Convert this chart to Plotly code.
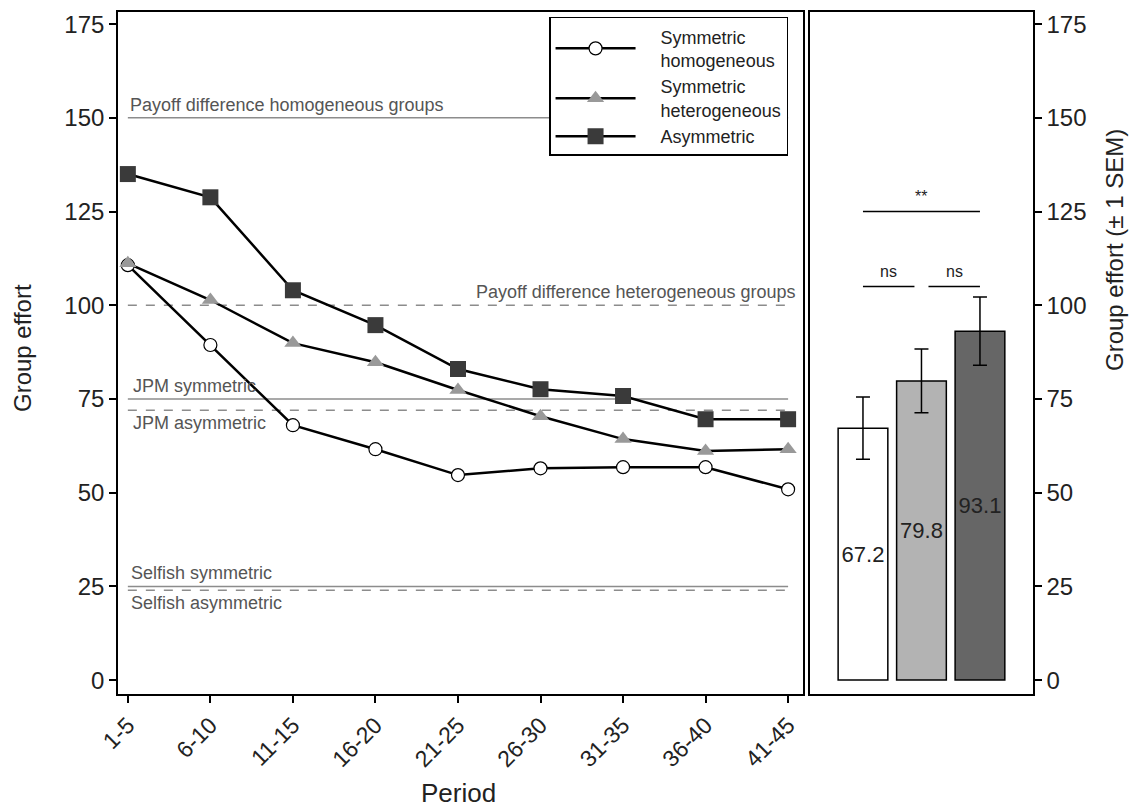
import plotly.graph_objects as go

# ---------------- data ----------------
periods = ["1-5", "6-10", "11-15", "16-20", "21-25", "26-30", "31-35", "36-40", "41-45"]
sym_hom = [110.7, 89.4, 68.0, 61.6, 54.7, 56.5, 56.8, 56.8, 50.9]
sym_het = [111.2, 101.4, 89.9, 84.8, 77.4, 70.4, 64.3, 61.1, 61.6]
asym = [135.0, 128.8, 104.0, 94.7, 83.0, 77.6, 75.8, 69.6, 69.6]

series_names = ["Symmetric<br>homogeneous", "Symmetric<br>heterogeneous", "Asymmetric"]

ref_labels = ["Payoff difference homogeneous groups", "Payoff difference heterogeneous groups",
              "JPM symmetric", "JPM asymmetric", "Selfish symmetric", "Selfish asymmetric"]
ref_values = [150, 100, 75, 72, 25, 24]

bar_groups = ["Symmetric homogeneous", "Symmetric heterogeneous", "Asymmetric"]
bar_values = [67.2, 79.8, 93.1]
bar_sem = [8.3, 8.5, 9.1]

sig_labels = ["ns", "ns", "**"]
sig_from = [0, 1, 0]
sig_to = [1, 2, 2]
sig_heights = [105, 105, 125]

yticks = [0, 25, 50, 75, 100, 125, 150, 175]

x_title = "Period"
y_title = "Group effort"
y2_title = "Group effort (± 1 SEM)"

# ---------------- style ----------------
FONT = "Liberation Sans, Arial, sans-serif"
TXT = "#222222"
REF_C = "#8c8c8c"
REF_TXT = "#555555"
ref_dash = ["solid", "dash", "solid", "dash", "solid", "dash"]
bar_colors = ["#ffffff", "#b3b3b3", "#666666"]
PAD = "\u00a0\u00a0\u00a0\u00a0"

fig = go.Figure()

# reference lines
for lab, val, dsh in zip(ref_labels, ref_values, ref_dash):
    fig.add_trace(go.Scatter(
        x=[periods[0], periods[-1]], y=[val, val], mode="lines",
        line=dict(color=REF_C, width=1.5, dash=dsh), showlegend=False,
        hoverinfo="skip", xaxis="x", yaxis="y"))

def legname(s):
    return "<br>".join(PAD + part for part in s.split("<br>"))

# series lines
fig.add_trace(go.Scatter(
    x=periods, y=sym_hom, name=legname(series_names[0]), mode="lines+markers",
    line=dict(color="black", width=2.5),
    marker=dict(symbol="circle", size=13, color="white", line=dict(color="black", width=1.2)),
    xaxis="x", yaxis="y"))
fig.add_trace(go.Scatter(
    x=periods, y=sym_het, name=legname(series_names[1]), mode="lines+markers",
    line=dict(color="black", width=2.5),
    marker=dict(symbol="triangle-up", size=15, color="#999999", line=dict(width=0)),
    xaxis="x", yaxis="y"))
fig.add_trace(go.Scatter(
    x=periods, y=asym, name=legname(series_names[2]), mode="lines+markers",
    line=dict(color="black", width=2.5),
    marker=dict(symbol="square", size=16, color="#3a3a3a", line=dict(width=0)),
    xaxis="x", yaxis="y"))

# bars
fig.add_trace(go.Bar(
    x=[0, 1, 2], y=bar_values, width=0.85,
    marker=dict(color=bar_colors, line=dict(color="black", width=1.5)),
    error_y=dict(type="data", array=bar_sem, color="black", thickness=1.5, width=7),
    text=[f"{v:.1f}" for v in bar_values], textposition="inside",
    insidetextanchor="middle", textangle=0,
    textfont=dict(family=FONT, size=22, color=TXT),
    showlegend=False, xaxis="x2", yaxis="y2", hoverinfo="skip"))

# significance brackets
for lab, a, b, h in zip(sig_labels, sig_from, sig_to, sig_heights):
    gap = 0.12 if lab == "ns" else 0.0
    xa = a + (gap if a == 1 else 0)
    xb = b - (gap if b == 1 else 0)
    fig.add_trace(go.Scatter(
        x=[xa, xb], y=[h, h], mode="lines", line=dict(color="black", width=1.5),
        showlegend=False, hoverinfo="skip", xaxis="x2", yaxis="y2"))
    fig.add_annotation(x=(xa + xb) / 2, y=h, xref="x2", yref="y2", text=lab,
                       showarrow=False, yanchor="bottom", yshift=5,
                       font=dict(family=FONT, size=16, color=TXT))

# reference labels
ref_pos = [  # (x, anchor, above?)
    (0.0, "left", True), (8.12, "right", True), (0.04, "left", True),
    (0.04, "left", False), (0.01, "left", True), (0.01, "left", False)]
for lab, val, (xp, anc, above) in zip(ref_labels, ref_values, ref_pos):
    fig.add_annotation(x=xp, y=val, xref="x", yref="y", text=lab, showarrow=False,
                       xanchor=anc, yanchor="bottom" if above else "top",
                       yshift=1 if above else -1,
                       font=dict(family=FONT, size=18, color=REF_TXT))

# axis titles
fig.add_annotation(x=458 / 1133, y=0, xref="paper", yref="paper", text=x_title,
                   xanchor="center", yanchor="bottom", yshift=-2,
                   showarrow=False, font=dict(family=FONT, size=26, color=TXT))
fig.add_annotation(x=23 / 1133, y=1 - 348 / 808, xref="paper", yref="paper", text=y_title,
                   xanchor="center", yanchor="middle",
                   textangle=-90, showarrow=False, font=dict(family=FONT, size=24, color=TXT))
fig.add_annotation(x=1114 / 1133, y=1 - 250 / 808, xref="paper", yref="paper", text=y2_title,
                   xanchor="center", yanchor="middle",
                   textangle=-90, showarrow=False, font=dict(family=FONT, size=24, color=TXT))

ax_common = dict(showline=True, linecolor="black", linewidth=1.5, mirror=True,
                 showgrid=False, zeroline=False, automargin=False)
yrange = [-3.7, 178.2]

fig.update_layout(
    width=1133, height=808, margin=dict(l=0, r=0, t=0, b=0, autoexpand=False),
    paper_bgcolor="white", plot_bgcolor="white",
    font=dict(family=FONT, color=TXT),
    xaxis=dict(domain=[0.1041, 0.7087], type="category",
               categoryorder="array", categoryarray=periods, range=[-0.12, 8.18],
               ticks="outside", ticklen=7, tickwidth=1.5, tickcolor="black",
               tickangle=-45, tickfont=dict(size=23, color=TXT),
               anchor="y", **ax_common),
    yaxis=dict(domain=[0.1411, 0.985], range=yrange, tickvals=yticks,
               ticks="outside", ticklen=7, tickwidth=1.5, tickcolor="black",
               tickfont=dict(size=24, color=TXT),
               anchor="x", **ax_common),
    xaxis2=dict(domain=[0.7149, 0.9117], range=[-0.906, 2.906], showticklabels=False,
                ticks="", anchor="y2", **ax_common),
    yaxis2=dict(domain=[0.1411, 0.985], range=yrange, tickvals=yticks,
                side="right", ticks="outside", ticklen=7, tickwidth=1.5, tickcolor="black",
                tickfont=dict(size=24, color=TXT),
                anchor="x2", **ax_common),
    legend=dict(x=0.4846, y=0.979, xanchor="left", yanchor="top",
                bgcolor="white", bordercolor="black", borderwidth=1.5,
                font=dict(family=FONT, size=18, color=TXT), itemwidth=80,
                tracegroupgap=6),
    showlegend=True,
)

fig.write_html("out.html")
